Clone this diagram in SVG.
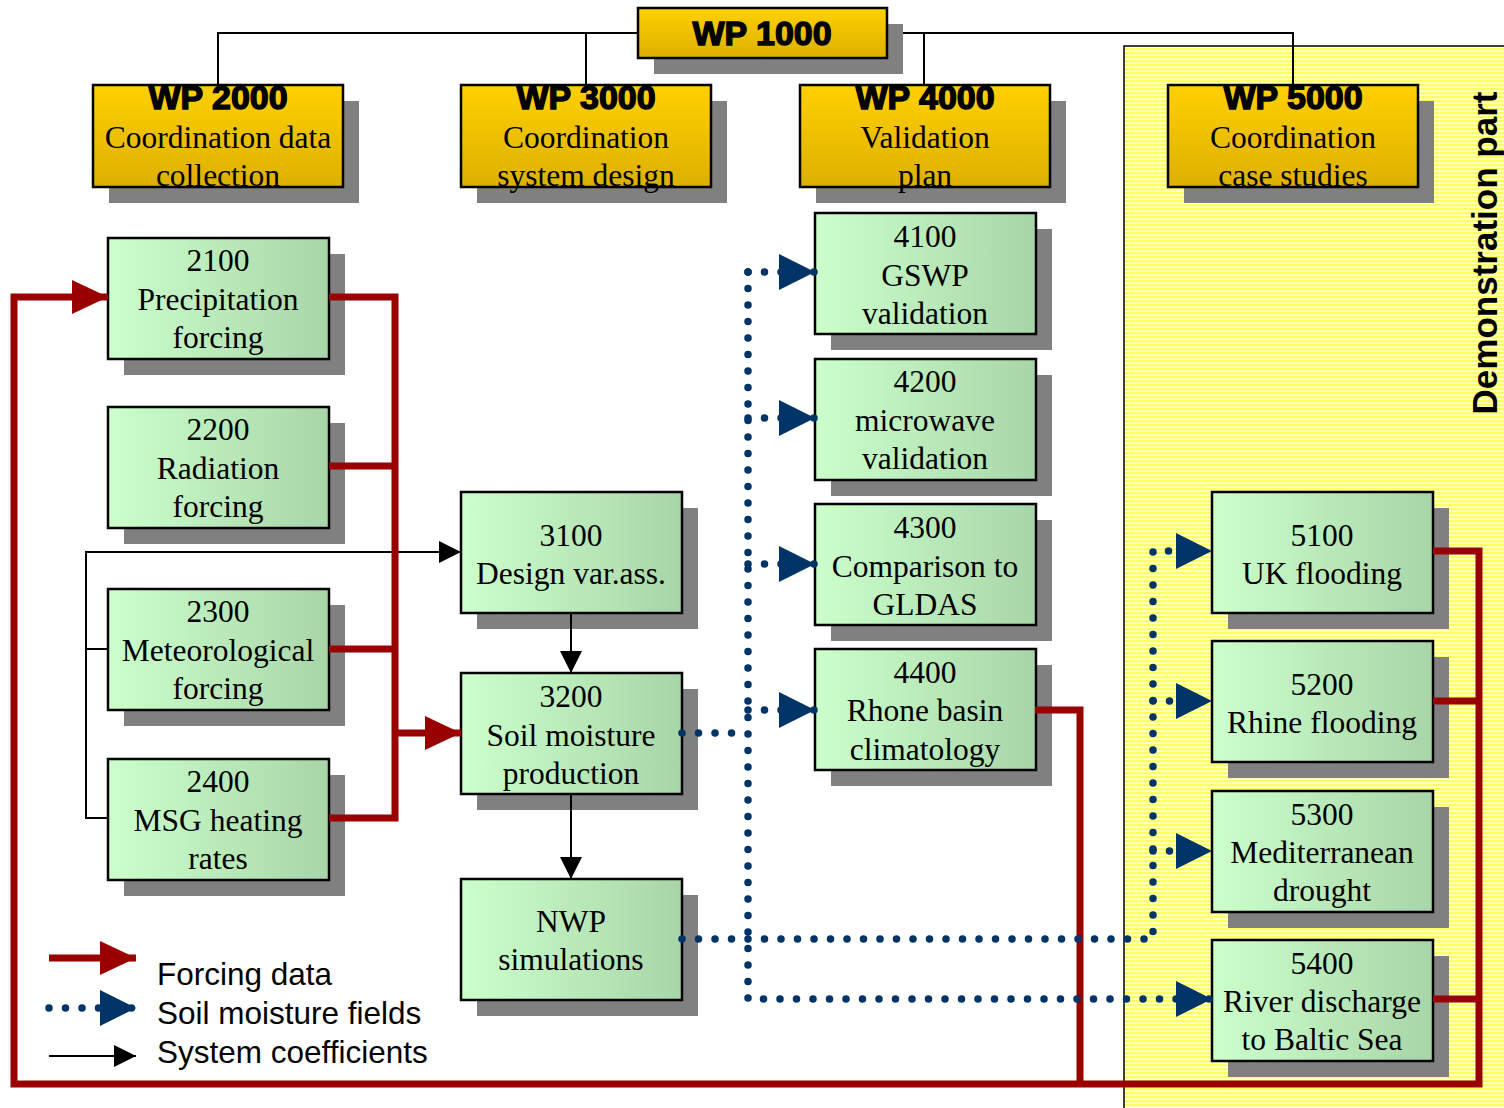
<svg xmlns="http://www.w3.org/2000/svg" width="1504" height="1108" viewBox="0 0 1504 1108">
<defs>
  <linearGradient id="gold" x1="0" y1="0" x2="0" y2="1">
    <stop offset="0" stop-color="#ffd000"/>
    <stop offset="1" stop-color="#dcb000"/>
  </linearGradient>
  <linearGradient id="green" x1="0" y1="0" x2="1" y2="0">
    <stop offset="0" stop-color="#ccffcc"/>
    <stop offset="1" stop-color="#a8d5a8"/>
  </linearGradient>
  <pattern id="stripes" x="0" y="0" width="8" height="4" patternUnits="userSpaceOnUse">
    <rect width="8" height="4" fill="#ffff66"/>
    <rect y="2.5" width="8" height="1.5" fill="#ffffff"/>
  </pattern>
  <marker id="redArrow" markerUnits="userSpaceOnUse" markerWidth="36" markerHeight="34" refX="36" refY="17" orient="auto" overflow="visible">
    <path d="M0,0 L36,17 L0,34 z" fill="#990000"/>
  </marker>
  <marker id="blueArrow" markerUnits="userSpaceOnUse" markerWidth="36" markerHeight="36" refX="36" refY="18" orient="auto" overflow="visible">
    <path d="M0,0 L36,18 L0,36 z" fill="#003366"/>
  </marker>
  <marker id="blackArrow" markerUnits="userSpaceOnUse" markerWidth="22" markerHeight="22" refX="22" refY="11" orient="auto" overflow="visible">
    <path d="M0,0 L22,11 L0,22 z" fill="#000000"/>
  </marker>
</defs>
<style>
  .shadow { fill: #808080; }
  .wp { fill: url(#gold); stroke: #000; stroke-width: 2.5; }
  .task { fill: url(#green); stroke: #000; stroke-width: 2.5; }
  .wpt { font-family: "Liberation Sans", Arial, sans-serif; font-weight: bold; font-size: 34px; text-anchor: middle; fill: #000; stroke: #000; stroke-width: 1.4; }
  .t { font-family: "Liberation Serif", "Times New Roman", serif; font-size: 31.5px; text-anchor: middle; fill: #000; }
  .leg { font-family: "Liberation Sans", Arial, sans-serif; font-size: 31.5px; fill: #000; }
  .demo { font-family: "Liberation Sans", Arial, sans-serif; font-weight: bold; font-size: 35px; text-anchor: middle; fill: #000; }
  .red { fill: none; stroke: #990000; stroke-width: 7; stroke-linejoin: miter; }
  .blue { fill: none; stroke: #003366; stroke-width: 7.5; stroke-linecap: round; stroke-dasharray: 0 16.5; }
  .thin { fill: none; stroke: #000; stroke-width: 2; }
</style>
<rect width="1504" height="1108" fill="#ffffff"/>

<g id="demonstration-area">
  <rect x="1124" y="46" width="384" height="1066" fill="url(#stripes)" stroke="#000" stroke-width="1.5"/>
  <text class="demo" transform="translate(1497,253) rotate(-90)">Demonstration part</text>
</g>

<g id="hierarchy-lines">
  <path class="thin" d="M218,85 V33 H1293 V85"/>
  <path class="thin" d="M586,85 V33"/>
  <path class="thin" d="M924,85 V33"/>
</g>

<g id="wp1000">
  <rect class="shadow" x="654" y="24" width="249" height="50"/>
  <rect class="wp" x="638" y="8" width="249" height="50"/>
  <text class="wpt" x="762" y="45">WP 1000</text>
</g>
<g id="wp2000">
  <rect class="shadow" x="109" y="101" width="250" height="102"/>
  <rect class="wp" x="93" y="85" width="250" height="102"/>
  <text class="wpt" x="218" y="109">WP 2000</text>
  <text class="t" x="218" y="148">Coordination data</text>
  <text class="t" x="218" y="186">collection</text>
</g>
<g id="wp3000">
  <rect class="shadow" x="477" y="101" width="250" height="102"/>
  <rect class="wp" x="461" y="85" width="250" height="102"/>
  <text class="wpt" x="586" y="109">WP 3000</text>
  <text class="t" x="586" y="148">Coordination</text>
  <text class="t" x="586" y="186">system design</text>
</g>
<g id="wp4000">
  <rect class="shadow" x="816" y="101" width="250" height="102"/>
  <rect class="wp" x="800" y="85" width="250" height="102"/>
  <text class="wpt" x="925" y="109">WP 4000</text>
  <text class="t" x="925" y="148">Validation</text>
  <text class="t" x="925" y="186">plan</text>
</g>
<g id="wp5000">
  <rect class="shadow" x="1184" y="101" width="250" height="102"/>
  <rect class="wp" x="1168" y="85" width="250" height="102"/>
  <text class="wpt" x="1293" y="109">WP 5000</text>
  <text class="t" x="1293" y="148">Coordination</text>
  <text class="t" x="1293" y="186">case studies</text>
</g>

<g id="t2100">
  <rect class="shadow" x="124" y="254" width="221" height="121"/>
  <rect class="task" x="108" y="238" width="221" height="121"/>
  <text class="t" x="218" y="271">2100</text>
  <text class="t" x="218" y="310">Precipitation</text>
  <text class="t" x="218" y="348">forcing</text>
</g>
<g id="t2200">
  <rect class="shadow" x="124" y="423" width="221" height="121"/>
  <rect class="task" x="108" y="407" width="221" height="121"/>
  <text class="t" x="218" y="440">2200</text>
  <text class="t" x="218" y="479">Radiation</text>
  <text class="t" x="218" y="517">forcing</text>
</g>
<g id="t2300">
  <rect class="shadow" x="124" y="605" width="221" height="121"/>
  <rect class="task" x="108" y="589" width="221" height="121"/>
  <text class="t" x="218" y="622">2300</text>
  <text class="t" x="218" y="661">Meteorological</text>
  <text class="t" x="218" y="699">forcing</text>
</g>
<g id="t2400">
  <rect class="shadow" x="124" y="775" width="221" height="121"/>
  <rect class="task" x="108" y="759" width="221" height="121"/>
  <text class="t" x="218" y="792">2400</text>
  <text class="t" x="218" y="831">MSG heating</text>
  <text class="t" x="218" y="869">rates</text>
</g>
<g id="t3100">
  <rect class="shadow" x="477" y="508" width="221" height="121"/>
  <rect class="task" x="461" y="492" width="221" height="121"/>
  <text class="t" x="571" y="546">3100</text>
  <text class="t" x="571" y="584">Design var.ass.</text>
</g>
<g id="t3200">
  <rect class="shadow" x="477" y="689" width="221" height="121"/>
  <rect class="task" x="461" y="673" width="221" height="121"/>
  <text class="t" x="571" y="707">3200</text>
  <text class="t" x="571" y="746">Soil moisture</text>
  <text class="t" x="571" y="784">production</text>
</g>
<g id="nwp">
  <rect class="shadow" x="477" y="895" width="221" height="121"/>
  <rect class="task" x="461" y="879" width="221" height="121"/>
  <text class="t" x="571" y="932">NWP</text>
  <text class="t" x="571" y="970">simulations</text>
</g>
<g id="t4100">
  <rect class="shadow" x="831" y="229" width="221" height="121"/>
  <rect class="task" x="815" y="213" width="221" height="121"/>
  <text class="t" x="925" y="247">4100</text>
  <text class="t" x="925" y="286">GSWP</text>
  <text class="t" x="925" y="324">validation</text>
</g>
<g id="t4200">
  <rect class="shadow" x="831" y="375" width="221" height="121"/>
  <rect class="task" x="815" y="359" width="221" height="121"/>
  <text class="t" x="925" y="392">4200</text>
  <text class="t" x="925" y="431">microwave</text>
  <text class="t" x="925" y="469">validation</text>
</g>
<g id="t4300">
  <rect class="shadow" x="831" y="520" width="221" height="121"/>
  <rect class="task" x="815" y="504" width="221" height="121"/>
  <text class="t" x="925" y="538">4300</text>
  <text class="t" x="925" y="577">Comparison to</text>
  <text class="t" x="925" y="615">GLDAS</text>
</g>
<g id="t4400">
  <rect class="shadow" x="831" y="665" width="221" height="121"/>
  <rect class="task" x="815" y="649" width="221" height="121"/>
  <text class="t" x="925" y="683">4400</text>
  <text class="t" x="925" y="721">Rhone basin</text>
  <text class="t" x="925" y="760">climatology</text>
</g>
<g id="t5100">
  <rect class="shadow" x="1228" y="508" width="221" height="121"/>
  <rect class="task" x="1212" y="492" width="221" height="121"/>
  <text class="t" x="1322" y="546">5100</text>
  <text class="t" x="1322" y="584">UK flooding</text>
</g>
<g id="t5200">
  <rect class="shadow" x="1228" y="657" width="221" height="121"/>
  <rect class="task" x="1212" y="641" width="221" height="121"/>
  <text class="t" x="1322" y="695">5200</text>
  <text class="t" x="1322" y="733">Rhine flooding</text>
</g>
<g id="t5300">
  <rect class="shadow" x="1228" y="807" width="221" height="121"/>
  <rect class="task" x="1212" y="791" width="221" height="121"/>
  <text class="t" x="1322" y="825">5300</text>
  <text class="t" x="1322" y="863">Mediterranean</text>
  <text class="t" x="1322" y="901">drought</text>
</g>
<g id="t5400">
  <rect class="shadow" x="1228" y="956" width="221" height="121"/>
  <rect class="task" x="1212" y="940" width="221" height="121"/>
  <text class="t" x="1322" y="974">5400</text>
  <text class="t" x="1322" y="1012">River discharge</text>
  <text class="t" x="1322" y="1050">to Baltic Sea</text>
</g>

<g id="connectors">
  <!-- system coefficients -->
  <path class="thin" d="M108,649 H86 V818 H108"/>
  <path class="thin" d="M86,649 V552 H461" marker-end="url(#blackArrow)"/>
  <path class="thin" d="M571,613 V673" marker-end="url(#blackArrow)"/>
  <path class="thin" d="M571,794 V879" marker-end="url(#blackArrow)"/>
  <!-- forcing data -->
  <path class="red" d="M329,297 H395 V818 H329"/>
  <path class="red" d="M329,466 H395"/>
  <path class="red" d="M329,649 H395"/>
  <path class="red" d="M395,733 H461" marker-end="url(#redArrow)"/>
  <path class="red" d="M1035,710 H1080 V1084"/>
  <path class="red" d="M1433,551 H1479 V1084 H14 V297 H108" marker-end="url(#redArrow)"/>
  <path class="red" d="M1433,701 H1479"/>
  <path class="red" d="M1433,999 H1479"/>
  <!-- soil moisture fields -->
  <path class="blue" d="M682,733 H748" stroke-dasharray="0 11"/>
  <path class="blue" d="M748,272 V999 H1212" marker-end="url(#blueArrow)"/>
  <path class="blue" d="M748,272 H815" marker-end="url(#blueArrow)"/>
  <path class="blue" d="M748,418 H815" marker-end="url(#blueArrow)"/>
  <path class="blue" d="M748,564 H815" marker-end="url(#blueArrow)"/>
  <path class="blue" d="M748,710 H815" marker-end="url(#blueArrow)"/>
  <path class="blue" d="M682,939 H1153 V551 H1212" marker-end="url(#blueArrow)"/>
  <path class="blue" d="M1153,701 H1212" marker-end="url(#blueArrow)"/>
  <path class="blue" d="M1153,851 H1212" marker-end="url(#blueArrow)"/>
</g>

<g id="legend">
  <path class="red" d="M49,958 H136" marker-end="url(#redArrow)"/>
  <path class="blue" d="M49,1008 H136" marker-end="url(#blueArrow)"/>
  <path class="thin" d="M49,1056 H136" marker-end="url(#blackArrow)"/>
  <text class="leg" x="157" y="985">Forcing data</text>
  <text class="leg" x="157" y="1024">Soil moisture fields</text>
  <text class="leg" x="157" y="1063">System coefficients</text>
</g>
</svg>
